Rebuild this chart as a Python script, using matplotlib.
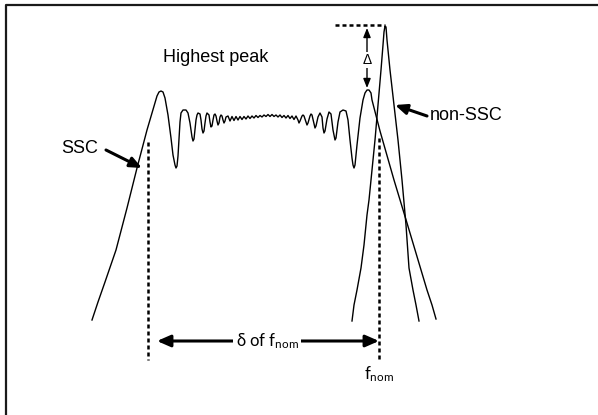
import matplotlib
matplotlib.use("Agg")
import matplotlib.pyplot as plt

plt.rcParams["font.family"] = ["Liberation Sans", "DejaVu Sans"]

# SSC response (filter with ripple passband) in pixel units
ssc_x = [92, 98, 105, 116, 127, 137, 147, 154, 157, 159, 161, 163, 165, 168, 171, 173, 175, 176, 177, 178,
         179, 180, 181, 183, 186, 188, 190, 192, 193, 194, 195, 196, 197, 198, 200, 201, 202, 203, 204, 205,
         206, 207, 209, 210, 211, 212, 213, 214, 215, 216, 217, 218, 219, 220, 221, 222, 223, 224, 225, 226,
         228, 230, 232, 234, 236, 238, 240, 242, 244, 246, 248, 250, 252, 254, 256, 258, 260, 262, 264, 266,
         268, 270, 272, 274, 276, 278, 280, 282, 284, 286, 288, 290, 292, 294, 296, 298, 299, 300, 302, 303,
         304, 306, 307, 308, 310, 311, 312, 314, 315, 316, 318, 320, 322, 323, 324, 325, 327, 329, 331, 333,
         335, 336, 338, 340, 343, 346, 348, 350, 352, 353, 354, 355, 357, 360, 363, 365, 367, 369, 371, 372,
         380, 394, 407, 418, 427, 432, 436]
ssc_y = [320, 302, 282, 250, 208, 168, 130, 106, 96, 92, 91, 92, 98, 115, 138, 155, 165, 168, 166, 156,
         138, 122, 113, 110, 110, 113, 123, 137, 141, 139, 130, 120, 115, 113, 114, 120, 129, 133, 131, 123,
         116, 113, 115, 122, 127, 126, 120, 115, 114, 116, 121, 125, 123, 117, 115, 116, 120, 123, 121, 117,
         116, 121, 116.5, 120.5, 116.5, 120, 116.5, 119.5, 116.5, 119, 116, 118.5, 116, 118, 115.5, 117.5, 115.5, 117, 115, 116.5,
         114.5, 116.5, 114.5, 116.5, 115, 117, 115, 117.5, 115.5, 118, 115.5, 118.5, 116, 119.5, 116, 120, 123, 121, 116, 115,
         116, 122, 125, 123, 116, 114, 115, 124, 128, 126, 117, 113, 117, 128, 133, 131, 119, 112, 114, 130,
         140, 138, 122, 112, 110, 111, 120, 140, 158, 165, 168, 165, 145, 118, 100, 93, 90, 90, 93, 100,
         131, 180, 223, 260, 290, 305, 319]

# non-SSC response (single sharp peak)
nonssc_x = [352, 354, 357, 361, 364, 367, 369, 371, 375, 378, 381, 383, 384, 385, 386, 387, 390, 394, 398, 402,
            406, 409, 413, 416, 419]
nonssc_y = [321, 305, 290, 268, 245, 215, 200, 180, 140, 105, 70, 45, 32, 26, 27, 40, 70, 105, 140, 180,
            225, 268, 290, 305, 321]

# landmarks
ssc_cut_x = 148
f_nom_x = 379
top_peak_y = 25
right_peak_y = 90

fig = plt.figure(figsize=(5.98, 4.15), dpi=100)
ax = fig.add_axes([0, 0, 1, 1])
ax.set_xlim(0, 598)
ax.set_ylim(415, 0)
ax.axis("off")

# frame
ax.plot([5.5, 5.5, 598], [415, 5.5, 5.5], color="#1a1a1a", lw=1.6, solid_capstyle="butt")

ax.plot(ssc_x, ssc_y, color="black", lw=1.0, solid_joinstyle="round")
ax.plot(nonssc_x, nonssc_y, color="black", lw=1.0, solid_joinstyle="round")

dash = (0, (1.6, 1.2))
ax.plot([ssc_cut_x, ssc_cut_x], [142, 360], color="black", lw=1.8, ls=dash)
ax.plot([f_nom_x, f_nom_x], [138, 360], color="black", lw=1.8, ls=dash)
ax.plot([335, 385], [top_peak_y, top_peak_y], color="black", lw=1.8, ls=dash)

# delta between peaks
ax.annotate("", xy=(367, top_peak_y + 3), xytext=(367, right_peak_y - 2),
            arrowprops=dict(arrowstyle="<|-|>,head_length=0.55,head_width=0.22", lw=1.0,
                            color="black", shrinkA=0, shrinkB=0))
ax.text(367, 60, "Δ", ha="center", va="center", fontsize=10,
        bbox=dict(facecolor="white", edgecolor="none", pad=0.5))

# offset arrow
ax.annotate("", xy=(157, 341), xytext=(f_nom_x, 341),
            arrowprops=dict(arrowstyle="<|-|>,head_length=0.8,head_width=0.35", lw=2.2,
                            color="black", shrinkA=0, shrinkB=0))
ax.text(267, 341, r"δ of $\mathregular{f_{nom}}$", ha="center", va="center", fontsize=12,
        family=["Lato", "DejaVu Sans"], bbox=dict(facecolor="white", edgecolor="none", pad=2))
ax.text(f_nom_x, 374, r"$\mathregular{f_{nom}}$", ha="center", va="center", fontsize=12,
        family=["Lato", "DejaVu Sans"])

ax.text(216, 57, "Highest peak", ha="center", va="center", fontsize=13)

ax.text(80, 148, "SSC", ha="center", va="center", fontsize=13)
ax.annotate("", xy=(142, 168), xytext=(106, 150),
            arrowprops=dict(arrowstyle="-|>,head_length=0.7,head_width=0.3", lw=2.2,
                            color="black", shrinkA=0, shrinkB=0))

ax.text(430, 115, "non-SSC", ha="left", va="center", fontsize=13)
ax.annotate("", xy=(395, 105), xytext=(427, 116),
            arrowprops=dict(arrowstyle="-|>,head_length=0.7,head_width=0.3", lw=2.2,
                            color="black", shrinkA=0, shrinkB=0))

fig.savefig("out.png", dpi=100, facecolor="white")
